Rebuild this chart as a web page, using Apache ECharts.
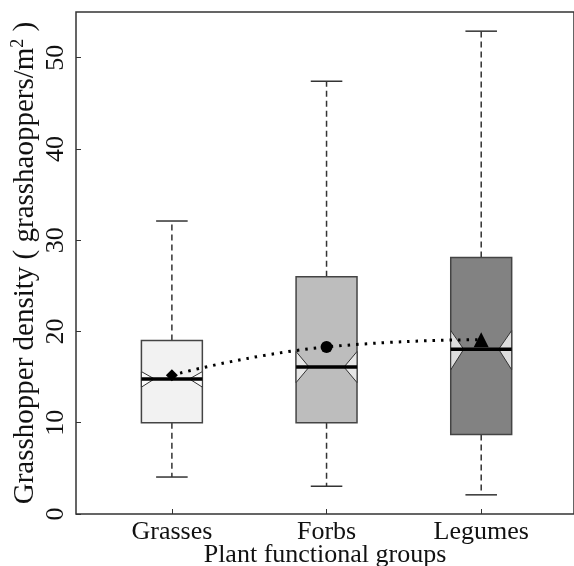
<!DOCTYPE html>
<html>
<head>
<meta charset="utf-8">
<script src="https://cdn.jsdelivr.net/npm/echarts@6/dist/echarts.min.js"></script>
<style>
  html, body { margin: 0; padding: 0; background: #fff; }
  #main { width: 574px; height: 566px; }
</style>
</head>
<body>
<div id="main"></div>
<script>
// data
const categories = ['Grasses', 'Forbs', 'Legumes'];
const whiskerLow = [4.05, 3.05, 2.1];
const q1 = [10.0, 10.0, 8.7];
const median = [14.8, 16.1, 18.05];
const q3 = [19.0, 26.0, 28.1];
const whiskerHigh = [32.1, 47.4, 52.9];
const notchLow = [13.9, 14.4, 15.8];
const notchHigh = [15.6, 17.8, 20.1];
const means = [15.2, 18.3, 19.1];
const yTicks = [0, 10, 20, 30, 40, 50];

// styles
const boxFill = ['#f2f2f2', '#bdbdbd', '#828282'];
const notchFill = ['#fbfbfb', '#e6e6e6', '#dedede'];
const meanSymbols = ['diamond', 'circle', 'triangle'];
const meanSizes = [12, 12, 15];
const font = 'Liberation Serif';

const boxData = categories.map((c, i) => [i + 1, whiskerLow[i], q1[i], median[i], q3[i], whiskerHigh[i], notchLow[i], notchHigh[i]]);

function renderBox(params, api) {
  const i = params.dataIndex;
  const x = api.value(0);
  const unit = api.size([1, 0])[0];
  const hw = unit * 0.197;   // half box width
  const nw = unit * 0.113;   // half width at notch
  const cw = unit * 0.102;   // half cap width
  const p = v => api.coord([x, v]);
  const cx = p(0)[0];
  const yLo = p(api.value(1))[1], yQ1 = p(api.value(2))[1], yMed = p(api.value(3))[1];
  const yQ3 = p(api.value(4))[1], yHi = p(api.value(5))[1];
  const yNL = p(api.value(6))[1], yNH = p(api.value(7))[1];
  const edge = '#444';
  const dash = { stroke: '#333', lineWidth: 1.5, lineDash: [6, 4] };
  return {
    type: 'group',
    children: [
      { type: 'line', shape: { x1: cx, y1: yQ3, x2: cx, y2: yHi }, style: dash },
      { type: 'line', shape: { x1: cx, y1: yQ1, x2: cx, y2: yLo }, style: dash },
      { type: 'line', shape: { x1: cx - cw, y1: yHi, x2: cx + cw, y2: yHi }, style: { stroke: '#333', lineWidth: 1.5 } },
      { type: 'line', shape: { x1: cx - cw, y1: yLo, x2: cx + cw, y2: yLo }, style: { stroke: '#333', lineWidth: 1.5 } },
      { type: 'rect', shape: { x: cx - hw, y: yQ3, width: hw * 2, height: yQ1 - yQ3 },
        style: { fill: boxFill[i], stroke: edge, lineWidth: 1.5 } },
      { type: 'polygon', shape: { points: [[cx - hw, yNH], [cx - nw, yMed], [cx - hw, yNL]] },
        style: { fill: notchFill[i], stroke: '#333', lineWidth: 1 } },
      { type: 'polygon', shape: { points: [[cx + hw, yNH], [cx + nw, yMed], [cx + hw, yNL]] },
        style: { fill: notchFill[i], stroke: '#333', lineWidth: 1 } },
      { type: 'line', shape: { x1: cx - hw, y1: yMed, x2: cx + hw, y2: yMed }, style: { stroke: '#000', lineWidth: 3.5 } }
    ]
  };
}

const myChart = echarts.init(document.querySelector('#main'));

const option = {
  backgroundColor: '#fff',
  animation: false,
  grid: {
    left: 76, right: 0, top: 12, bottom: 52,
    outerBoundsMode: 'none',
    containLabel: false,
    show: true, borderColor: '#333', borderWidth: 1.5
  },
  xAxis: {
    type: 'value',
    min: 0.38,
    max: 3.6,
    splitLine: { show: false },
    axisLine: { show: false },
    axisTick: { inside: true, length: 5, customValues: [1, 2, 3], lineStyle: { color: '#333' } },
    axisLabel: {
      customValues: [1, 2, 3],
      formatter: v => categories[v - 1],
      color: '#111', fontFamily: font, fontSize: 26, margin: 5
    },
    name: 'Plant functional groups',
    nameLocation: 'middle',
    nameMoveOverlap: false,
    nameGap: 28,
    nameTextStyle: { color: '#111', fontFamily: font, fontSize: 26 }
  },
  yAxis: {
    type: 'value',
    min: 0,
    max: 55,
    splitLine: { show: false },
    axisLine: { show: false },
    axisTick: { inside: true, length: 5, customValues: yTicks, lineStyle: { color: '#333' } },
    axisLabel: {
      customValues: yTicks,
      rotate: 90,
      color: '#111', fontFamily: font, fontSize: 26, margin: 7
    },
    name: 'Grasshopper density ( grasshaoppers/m{sup|2} )',
    nameLocation: 'middle',
    nameRotate: 90,
    nameMoveOverlap: false,
    nameGap: 34,
    nameTextStyle: {
      color: '#111', fontFamily: font, fontSize: 29,
      rich: { sup: { fontSize: 18, fontFamily: font, color: '#111', padding: [0, 0, 15, 0] } }
    }
  },
  series: [
    {
      type: 'custom',
      renderItem: renderBox,
      data: boxData,
      z: 2
    },
    {
      type: 'line',
      data: categories.map((c, i) => [i + 1, means[i]]),
      smooth: true,
      symbol: 'none',
      lineStyle: { color: '#000', width: 3, type: [2.5, 6] },
      z: 3
    },
    {
      type: 'scatter',
      data: categories.map((c, i) => [i + 1, means[i]]),
      symbol: (v, p) => meanSymbols[p.dataIndex],
      symbolSize: (v, p) => meanSizes[p.dataIndex],
      itemStyle: { color: '#000', opacity: 1 },
      z: 4
    }
  ]
};

myChart.setOption(option);
</script>
</body>
</html>
